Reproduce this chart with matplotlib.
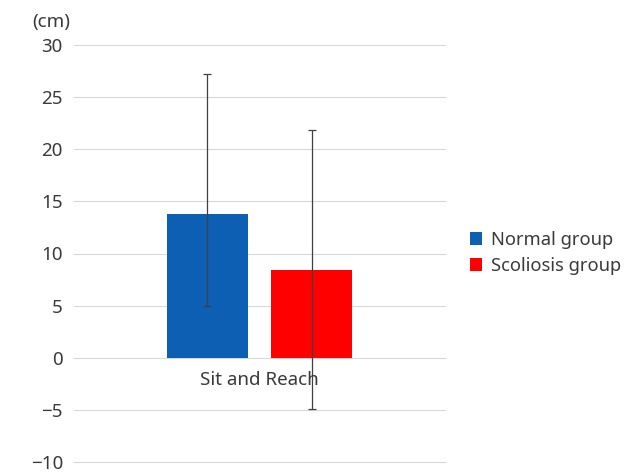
import matplotlib
matplotlib.use("Agg")
import matplotlib.pyplot as plt
from matplotlib.patches import Patch

plt.rcParams['font.family'] = ['Noto Sans', 'DejaVu Sans']

category = "Sit and Reach"
groups = ["Normal group", "Scoliosis group"]
means = [13.8, 8.4]
err_upper = [13.4, 13.4]
err_lower = [8.8, 13.3]
colors = ["#0c5fb3", "#ff0000"]
yticks = [-10, -5, 0, 5, 10, 15, 20, 25, 30]
unit = "(cm)"

fig = plt.figure(figsize=(6.35, 4.75), dpi=100)
ax = fig.add_axes([74/635, 1-462/475, 371/635, (462-45)/475])

offsets = [-0.141, 0.141]
for off, m, lo, hi, c in zip(offsets, means, err_lower, err_upper, colors):
    ax.bar(off, m, width=0.219, color=c, zorder=2)
    ax.errorbar(off, m, yerr=[[lo], [hi]], fmt='none', ecolor='#404040',
                elinewidth=0.9, capsize=3, capthick=0.9, zorder=3)

ax.set_xlim(-0.5, 0.5)
ax.set_ylim(-10, 30)
ax.set_yticks(yticks)
ax.set_yticklabels([str(t).replace('-', '\u2212') for t in yticks])
ax.set_xticks([])
ax.grid(axis='y', color='#d9d9d9', linewidth=0.8, zorder=0)
for gl in ax.get_ygridlines():
    gl.set_clip_on(False)
for s in ax.spines.values():
    s.set_visible(False)
ax.tick_params(axis='y', length=0, pad=8, labelsize=13.5, labelcolor='#3a3a3a')
ax.text(0, -2.1, category, ha='center', va='center', fontsize=13.5, color='#3a3a3a')
fig.text(51/635, 1-22/475, unit, ha='center', va='center', fontsize=13.5, color='#3a3a3a')

handles = [Patch(facecolor=c, label=g) for g, c in zip(groups, colors)]
fig.legend(handles=handles, loc='center left', bbox_to_anchor=(453/635, 1-253/475),
           frameon=False, fontsize=13.2, handlelength=0.7, handleheight=0.7,
           handletextpad=0.45, labelspacing=0.45, labelcolor='#3a3a3a')

fig.savefig("out.png", dpi=100)
